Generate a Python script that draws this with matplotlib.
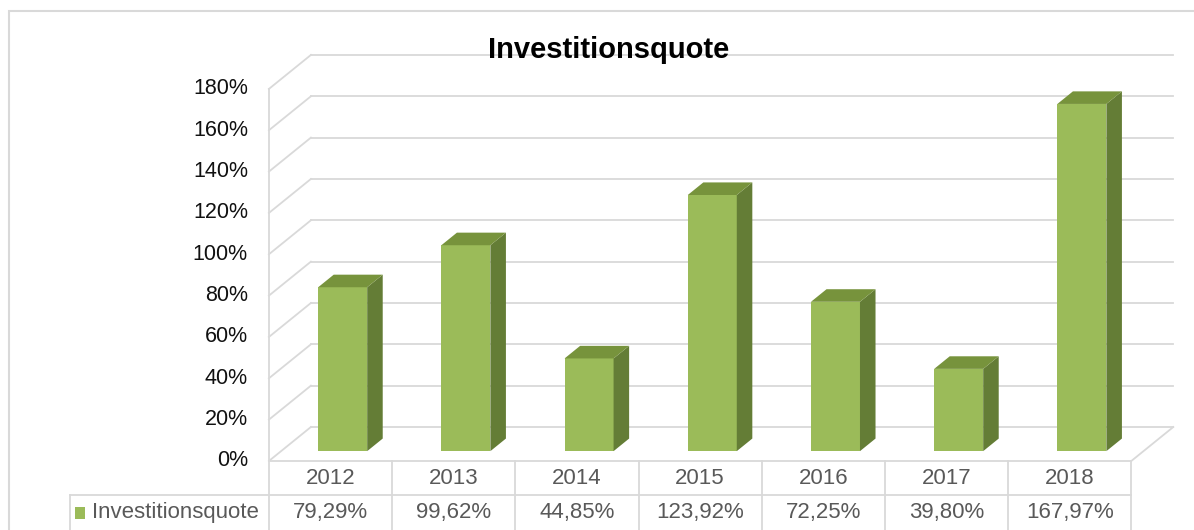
import matplotlib.pyplot as plt
import numpy as np
from matplotlib.patches import Polygon, Rectangle

plt.rcParams['font.family'] = ['Liberation Sans', 'DejaVu Sans']

# Data
years = ['2012', '2013', '2014', '2015', '2016', '2017', '2018']
quote = [79.29, 99.62, 44.85, 123.92, 72.25, 39.80, 167.97]
y_ticks = [0, 20, 40, 60, 80, 100, 120, 140, 160, 180]
series_name = 'Investitionsquote'

# Layout (pixels) for the pseudo-3D Excel look
W, H = 1194, 530
UNIT = 123.2      # px per category
X0 = 330.5        # px of first category centre (front plane)
PXP = 2.067       # px per percent
Y0 = 461          # px from top of front 0% line
DX, DY = 42 / UNIT, 34 / PXP          # full depth offset in data units
f0, f1 = 0.29, 0.66                   # bar depth range
bar_w = 49 / UNIT

front_c, top_c, side_c = '#9BBB59', '#77933C', '#647D36'
grid_c = '#D9D9D9'

fig = plt.figure(figsize=(W / 100, H / 100), dpi=100)
ax = fig.add_axes([0, 0, 1, 1])
ax.set_xlim(-X0 / UNIT, (W - X0) / UNIT)
ax.set_ylim(-(H - Y0) / PXP, Y0 / PXP)
ax.axis('off')

n = len(years)
x = np.arange(n)
left, right = -0.5, n - 0.5
top_v = y_ticks[-1]

# Walls and gridlines
for v in y_ticks:
    ax.plot([left + DX, right + DX], [v + DY, v + DY], color=grid_c, lw=1.3, zorder=1)
    ax.plot([left, left + DX], [v, v + DY], color=grid_c, lw=1.3, zorder=1)
ax.plot([left, left], [0, top_v], color=grid_c, lw=1.3, zorder=1)
ax.plot([left, right], [0, 0], color=grid_c, lw=1.3, zorder=1)
ax.plot([right, right + DX], [0, DY], color=grid_c, lw=1.3, zorder=1)

# Bars: front faces
bx = x + f0 * DX
bot = f0 * DY
ax.bar(bx, quote, width=bar_w, bottom=bot, color=front_c, zorder=3)

sdx, sdy = (f1 - f0) * DX, (f1 - f0) * DY
for xi, v in zip(bx, quote):
    xl, xr = xi - bar_w / 2, xi + bar_w / 2
    t = bot + v
    side = Polygon([(xr, bot), (xr + sdx, bot + sdy), (xr + sdx, t + sdy), (xr, t)],
                   closed=True, facecolor=side_c, edgecolor='none', zorder=3)
    top = Polygon([(xl, t), (xr, t), (xr + sdx, t + sdy), (xl + sdx, t + sdy)],
                  closed=True, facecolor=top_c, edgecolor='none', zorder=3)
    ax.add_patch(side)
    ax.add_patch(top)

# Y tick labels
for v in y_ticks:
    ax.text((248 - X0) / UNIT, v, f'{v}%', ha='right', va='center',
            fontsize=15.5, color='#111111')

# Data table
row1 = (Y0 - 495) / PXP
row_bot = (Y0 - 540) / PXP
leg_left = (70 - X0) / UNIT
ax.plot([leg_left, right], [row1, row1], color=grid_c, lw=1.3, clip_on=False)
ax.plot([leg_left, leg_left], [row1, row_bot], color=grid_c, lw=1.3)
for k in range(n + 1):
    ax.plot([left + k, left + k], [0, row_bot], color=grid_c, lw=1.3)

row2_mid = (row1 + (Y0 - 530) / PXP) / 2
for xi, yr, v in zip(x, years, quote):
    ax.text(xi, row1 / 2, yr, ha='center', va='center', fontsize=16, color='#595959')
    ax.text(xi, row2_mid, f'{v:.2f}'.replace('.', ',') + '%',
            ha='center', va='center', fontsize=16, color='#595959')

ax.add_patch(Rectangle(((75 - X0) / UNIT, row2_mid - 6 / PXP), 10 / UNIT, 12 / PXP,
                       facecolor=front_c, edgecolor='none'))
ax.text((92 - X0) / UNIT, row2_mid, series_name, ha='left', va='center',
        fontsize=16, color='#595959')

# Title
fig.text(609 / W, 1 - 50 / H, 'Investitionsquote', ha='center', va='center',
         fontsize=21, fontweight='bold', color='#000000')

# Chart area border
fig.patches.append(Rectangle((9 / W, -0.1), 1.2, 1 - 11 / H + 0.1, transform=fig.transFigure,
                             fill=False, edgecolor=grid_c, lw=1.5))

fig.savefig('out.png', dpi=100)
